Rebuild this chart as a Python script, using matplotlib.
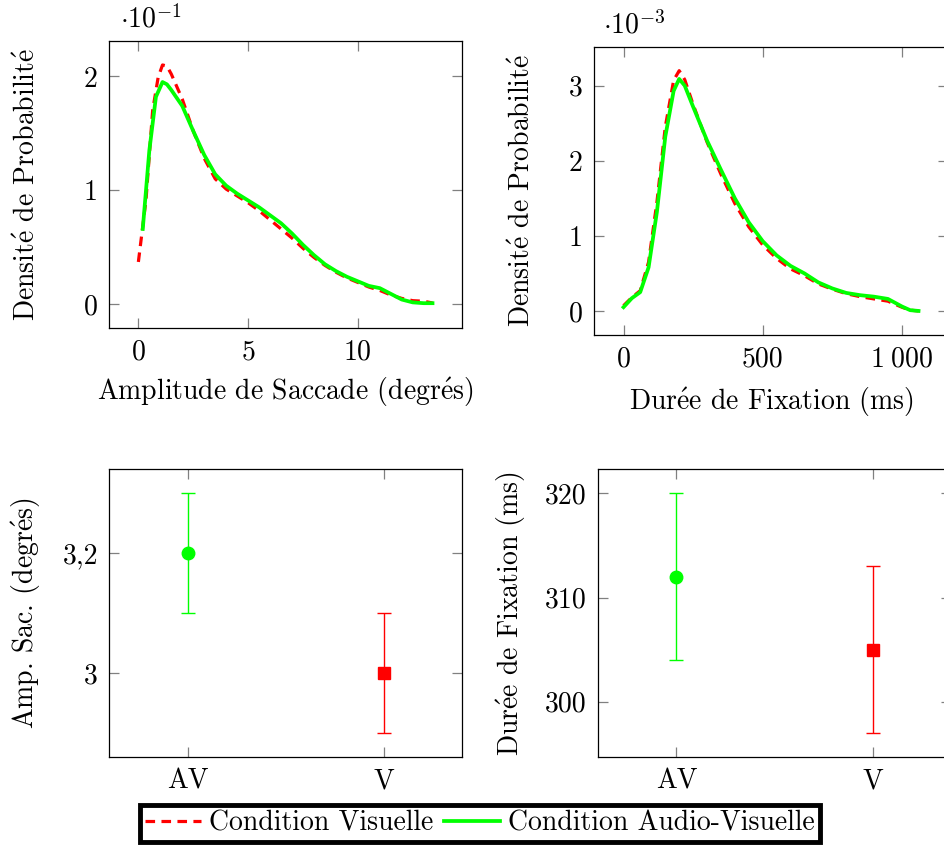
import matplotlib.pyplot as plt

plt.rcParams['font.family'] = 'cmr10'
plt.rcParams['mathtext.fontset'] = 'cm'
plt.rcParams['axes.unicode_minus'] = False
plt.rcParams['font.size'] = 20

# ---- data ----
# saccade amplitude density (values in units of 1e-1)
amp_v_x = [0, 0.35, 0.65, 0.9, 1.1, 1.3, 1.5, 2.0, 2.5, 3.0, 3.5, 4.0, 4.5, 5.0, 5.5,
           6.0, 6.5, 7.0, 7.5, 8.0, 8.5, 9.0, 9.5, 10.0, 10.5, 11.0, 11.5, 12.0, 12.5, 13.0, 13.4]
amp_v = [0.37, 0.92, 1.70, 1.99, 2.1, 2.09, 2.02, 1.80, 1.52, 1.28, 1.10, 1.01, 0.95, 0.89, 0.82,
         0.74, 0.66, 0.58, 0.49, 0.41, 0.34, 0.28, 0.23, 0.19, 0.15, 0.12, 0.08, 0.05, 0.03, 0.025, 0.01]
amp_av_x = [0.2, 0.5, 0.8, 1.1, 1.3, 1.5, 2.0, 2.5, 3.0, 3.5, 4.0, 4.5, 5.0, 5.5,
            6.0, 6.5, 7.0, 7.5, 8.0, 8.5, 9.0, 9.5, 10.0, 10.5, 11.0, 11.5, 12.0, 12.5, 13.0, 13.4]
amp_av = [0.66, 1.35, 1.82, 1.95, 1.93, 1.88, 1.74, 1.52, 1.31, 1.14, 1.04, 0.97, 0.91, 0.85,
          0.78, 0.71, 0.62, 0.52, 0.43, 0.35, 0.29, 0.24, 0.20, 0.16, 0.14, 0.09, 0.04, 0.015, 0.008, 0.008]

# fixation duration density (values in units of 1e-3)
fix_x = [0, 30, 60, 90, 120, 150, 180, 200, 220, 250, 300, 350, 400, 450, 500, 550,
         600, 650, 700, 750, 800, 850, 900, 950, 1000, 1030, 1060]
fix_v = [0.07, 0.18, 0.27, 0.65, 1.45, 2.45, 3.07, 3.2, 3.08, 2.75, 2.25, 1.82, 1.43, 1.12, 0.88, 0.70,
         0.56, 0.47, 0.36, 0.29, 0.23, 0.19, 0.16, 0.13, 0.05, 0.01, 0.0]
fix_av = [0.05, 0.17, 0.25, 0.58, 1.32, 2.32, 2.93, 3.09, 3.0, 2.72, 2.27, 1.88, 1.5, 1.18, 0.93, 0.74,
          0.60, 0.50, 0.38, 0.30, 0.24, 0.21, 0.19, 0.16, 0.06, 0.01, 0.0]

# means and errors
conds = ['AV', 'V']
amp_mean = [3.2, 3.0]
amp_err = [0.1, 0.1]
fix_mean = [312, 305]
fix_err = [8, 8]

red = '#ff0000'
green = '#00ff00'


def style(ax):
    ax.tick_params(direction='in', length=7.5, width=0.9, color='#808080',
                   top=True, right=True, labelsize=20, pad=8)
    for s in ax.spines.values():
        s.set_linewidth(0.9)


fig = plt.figure(figsize=(9.45, 8.48), dpi=100)

# ---- top left ----
ax1 = fig.add_axes([0.1153, 0.6132, 0.3735, 0.3384])
ax1.plot(amp_v_x, amp_v, color=red, lw=2.3, dashes=(3, 2))
ax1.plot(amp_av_x, amp_av, color=green, lw=2.7)
ax1.set_xlim(-1.34, 14.74)
ax1.set_ylim(-0.21, 2.31)
ax1.set_xticks([0, 5, 10])
ax1.set_xticklabels(['0', '5', '10'])
ax1.set_yticks([0, 1, 2])
ax1.set_yticklabels(['0', '1', '2'])
ax1.set_xlabel('Amplitude de Saccade (degr$\\acute{\\rm e}$s)', labelpad=7)
ax1.set_ylabel('Densit$\\acute{\\rm e}$ de Probabilit$\\acute{\\rm e}$', labelpad=31)
ax1.text(0.03, 1.025, '$\\cdot 10^{-1}$', transform=ax1.transAxes, fontsize=20, va='bottom')
style(ax1)

# ---- top right ----
ax2 = fig.add_axes([0.6286, 0.6050, 0.3746, 0.340])
ax2.plot(fix_x, fix_v, color=red, lw=2.3, dashes=(3, 2))
ax2.plot(fix_x, fix_av, color=green, lw=2.7)
ax2.set_xlim(-106, 1166)
ax2.set_ylim(-0.32, 3.52)
ax2.set_xticks([0, 500, 1000])
ax2.set_xticklabels(['0', '500', '$1\\;000$'])
ax2.set_yticks([0, 1, 2, 3])
ax2.set_yticklabels(['0', '1', '2', '3'])
ax2.set_xlabel('Dur$\\acute{\\rm e}$e de Fixation (ms)', labelpad=9)
ax2.set_ylabel('Densit$\\acute{\\rm e}$ de Probabilit$\\acute{\\rm e}$', labelpad=24)
ax2.text(0.025, 1.025, '$\\cdot 10^{-3}$', transform=ax2.transAxes, fontsize=20, va='bottom')
style(ax2)

# ---- bottom left ----
ax3 = fig.add_axes([0.1157, 0.1073, 0.3735, 0.3393])
ax3.errorbar([0], amp_mean[:1], yerr=amp_err[:1], fmt='o', color=green, ms=9,
             elinewidth=1, capsize=5, capthick=1)
ax3.errorbar([1], amp_mean[1:], yerr=amp_err[1:], fmt='s', color=red, ms=8.5,
             elinewidth=1, capsize=5, capthick=1)
ax3.set_xlim(-0.4, 1.4)
ax3.set_ylim(2.86, 3.34)
ax3.set_xticks([0, 1])
ax3.set_xticklabels(conds)
ax3.set_yticks([3.0, 3.2])
ax3.set_yticklabels(['3', '3,2'])
ax3.set_ylabel('Amp. Sac. (degr$\\acute{\\rm e}$s)', labelpad=14)
style(ax3)

# ---- bottom right ----
ax4 = fig.add_axes([0.6328, 0.1073, 0.3735, 0.3393])
ax4.errorbar([0], fix_mean[:1], yerr=fix_err[:1], fmt='o', color=green, ms=9,
             elinewidth=1, capsize=5, capthick=1)
ax4.errorbar([1], fix_mean[1:], yerr=fix_err[1:], fmt='s', color=red, ms=8.5,
             elinewidth=1, capsize=5, capthick=1)
ax4.set_xlim(-0.4, 1.4)
ax4.set_ylim(294.7, 322.3)
ax4.set_xticks([0, 1])
ax4.set_xticklabels(conds)
ax4.set_yticks([300, 310, 320])
ax4.set_yticklabels(['300', '310', '320'])
ax4.set_ylabel('Dur$\\acute{\\rm e}$e de Fixation (ms)', labelpad=12)
style(ax4)

# ---- legend ----
h1, = ax1.plot([], [], color=red, lw=2.3, dashes=(3, 2))
h2, = ax1.plot([], [], color=green, lw=2.7)
leg = fig.legend([h1, h2], ['Condition Visuelle', 'Condition Audio-Visuelle'],
                 loc='center', bbox_to_anchor=(0.508, 0.029), ncol=2, fontsize=20,
                 frameon=True, fancybox=False, framealpha=1, handlelength=2.0,
                 handletextpad=0.3, columnspacing=0.4, borderpad=0.2, borderaxespad=0)
leg.get_frame().set_edgecolor('black')
leg.get_frame().set_linewidth(3.5)

fig.savefig('out.png', dpi=100)
